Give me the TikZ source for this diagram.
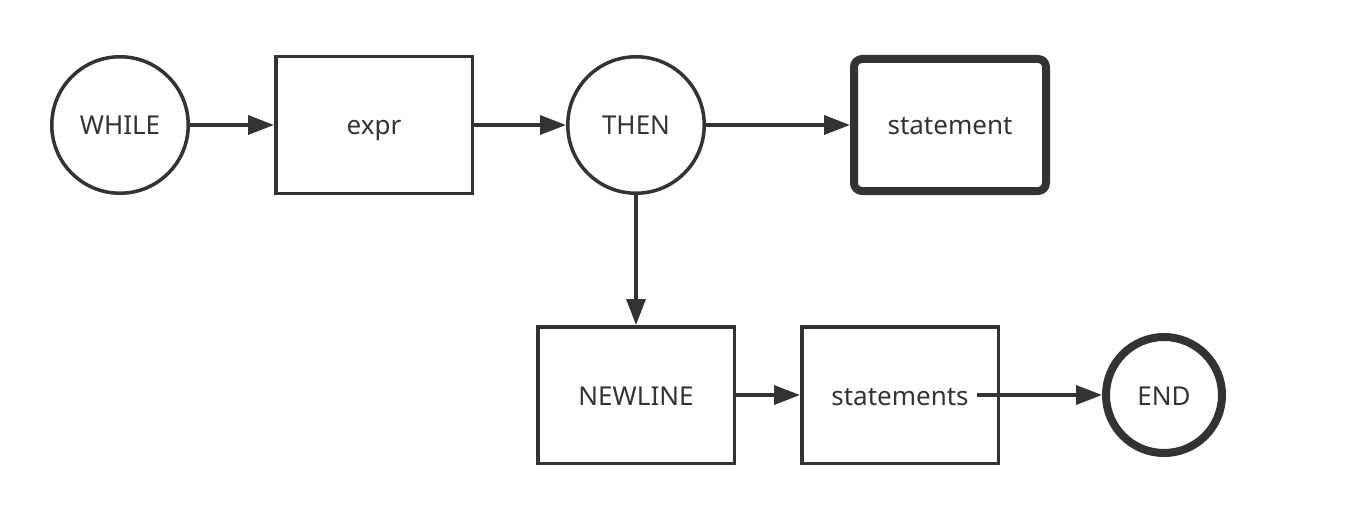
\documentclass[tikz,border=0pt]{standalone}
\usepackage{fontspec}
\setmainfont{Noto Sans}
\usetikzlibrary{arrows.meta}
\definecolor{ink}{HTML}{333333}
\tikzset{every picture/.style={line width=3.5pt}}
\tikzset{
  state/.style={circle,draw=ink,text=ink,minimum size=136.5pt,inner sep=0pt,text height=24pt,text depth=4pt,font=\fontsize{26}{31}\selectfont},
  block/.style={rectangle,draw=ink,text=ink,minimum width=196.5pt,minimum height=136.5pt,inner sep=0pt,text height=24pt,text depth=4pt,font=\fontsize{26}{31}\selectfont},
  flow/.style={draw=ink,-{Triangle[length=26pt,width=19pt]}}
}
\begin{document}
\begin{tikzpicture}[x=1pt,y=-1pt]
				\useasboundingbox (0,0) rectangle (1356,532); %枠
				\node[state] (while) at (120,125) {WHILE};
				\node[block] (expr) at (374,125) {expr};
				\node[state] (then) at (636,125) {THEN};
				\node[block,line width=8pt,rounded corners=8pt,minimum width=192pt,minimum height=132pt] (stmt) at (950,125) {statement};
				\node[block] (newline) at (636,395) {NEWLINE};
				\node[block] (stmts) at (900,395) {statements};
				\node[state,line width=8pt,minimum size=116pt] (end) at (1164,395) {END};
				\draw[flow] (while)--(expr); %上の段
				\draw[flow] (expr)--(then);
				\draw[flow] (then)--(stmt);
				\draw[flow] (then)--(newline); %下へ
				\draw[flow] (newline)--(stmts); %下の段
				\draw[flow] ([xshift=-23pt]stmts.east)--(end);
			\end{tikzpicture}
\end{document}
